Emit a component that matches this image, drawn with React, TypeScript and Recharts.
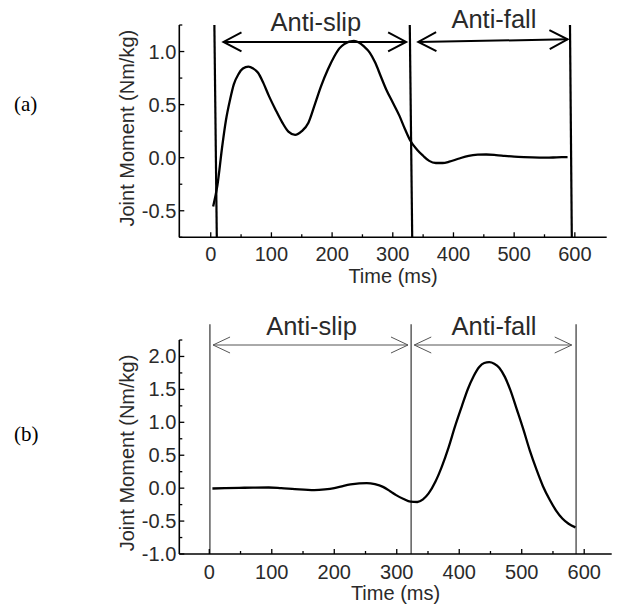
import React from 'react';
import { LineChart, Line, XAxis, YAxis, ReferenceLine } from 'recharts';

// (a) joint moment during the slip
const timeA = [4, 11, 19, 25, 32, 38, 46, 53, 62, 70, 78, 87, 96, 107, 118, 128, 139, 150, 161, 172, 182, 193, 204, 212, 220, 236, 244, 252, 262, 271, 280, 289, 300, 311, 320, 329, 340, 350, 360, 371, 382, 393, 408, 425, 440, 454, 470, 484, 500, 516, 530, 553, 570, 588];
const momentA = [-0.46, -0.26, 0.11, 0.35, 0.55, 0.69, 0.79, 0.84, 0.858, 0.84, 0.8, 0.7, 0.58, 0.45, 0.33, 0.245, 0.215, 0.25, 0.33, 0.51, 0.676, 0.83, 0.958, 1.03, 1.07, 1.1, 1.085, 1.05, 0.99, 0.896, 0.77, 0.645, 0.52, 0.394, 0.27, 0.159, 0.075, 0.018, -0.03, -0.05, -0.05, -0.038, -0.01, 0.018, 0.028, 0.03, 0.025, 0.018, 0.01, 0.005, 0.002, 0.0, 0.003, 0.006];

// (b)
const timeB = [5, 25, 48, 70, 95, 115, 137, 168, 185, 200, 215, 226, 240, 252, 265, 278, 290, 299, 311, 322, 333, 342, 351, 362, 372, 383, 393, 404, 414, 423, 432, 440, 448, 456, 464, 473, 482, 492, 503, 513, 524, 534, 545, 555, 565, 575, 586];
const momentB = [-0.005, 0.0, 0.005, 0.008, 0.01, 0.0, -0.015, -0.03, -0.02, 0.0, 0.035, 0.056, 0.072, 0.076, 0.06, 0.02, -0.05, -0.106, -0.165, -0.205, -0.21, -0.17, -0.08, 0.1, 0.323, 0.62, 0.93, 1.24, 1.51, 1.7, 1.84, 1.9, 1.914, 1.89, 1.83, 1.69, 1.485, 1.2, 0.88, 0.57, 0.273, 0.03, -0.18, -0.34, -0.46, -0.54, -0.596];

const xTicks = [0, 50, 100, 150, 200, 250, 300, 350, 400, 450, 500, 550, 600];
const yTicksA = [-0.75, -0.5, -0.25, 0, 0.25, 0.5, 0.75, 1, 1.25];
const yTicksB = [-1, -0.75, -0.5, -0.25, 0, 0.25, 0.5, 0.75, 1, 1.25, 1.5, 1.75, 2, 2.25];

// phase boundaries (top x, bottom x) in ms
const boundsA = [[6, 10], [328, 332], [592, 595]];
const boundsB = [1, 323, 587];

const phasesA = [
  { label: 'Anti-slip', from: 21, to: 322, yFrom: 1.09, yTo: 1.09 },
  { label: 'Anti-fall', from: 342, to: 588, yFrom: 1.09, yTo: 1.115 },
];
const phasesB = [
  { label: 'Anti-slip', from: 6, to: 318, yFrom: 2.174, yTo: 2.174 },
  { label: 'Anti-fall', from: 328, to: 580, yFrom: 2.174, yTo: 2.174 },
];

const tableA = timeA.map((t, i) => ({ t, m: momentA[i] }));
const tableB = timeB.map((t, i) => ({ t, m: momentB[i] }));

const TXT = '#2a2a2a';

const makeXTick = (labelDy: number) => (props: any) => {
  const { x, y, payload } = props;
  const major = payload.value % 100 === 0;
  return (
    <g>
      <line x1={x} x2={x} y1={y} y2={y - (major ? 5 : 3)} stroke="#000" strokeWidth={1.3} />
      {major && (
        <text x={x} y={y + labelDy} textAnchor="middle" dominantBaseline="central" fontSize={20} fill={TXT}>
          {payload.value}
        </text>
      )}
    </g>
  );
};

const YTick = (props: any) => {
  const { x, y, payload } = props;
  const v = payload.value;
  const major = Math.abs(v * 2 - Math.round(v * 2)) < 1e-6;
  return (
    <g>
      <line x1={x} x2={x + (major ? 5 : 3)} y1={y} y2={y} stroke="#000" strokeWidth={1.3} />
      {major && (
        <text x={x - 3} y={y} textAnchor="end" dominantBaseline="central" fontSize={20} fill={TXT}>
          {v.toFixed(1)}
        </text>
      )}
    </g>
  );
};

const yTitle = (shift: number) => (props: any) => {
  const vb = props.viewBox;
  const cx = vb.x + 127;
  const cy = vb.y + vb.height / 2 + shift;
  return (
    <text x={cx} y={cy} transform={`rotate(-90, ${cx}, ${cy})`} textAnchor="middle" dominantBaseline="central" fontSize={20} fill={TXT}>
      Joint Moment (Nm/kg)
    </text>
  );
};

const arrowShape = (label: string, color: string, sw: number, len: number, half: number, gap: number) => (props: any) => {
  const { x1, y1, x2, y2 } = props;
  const a = Math.atan2(y2 - y1, x2 - x1);
  const c = Math.cos(a);
  const s = Math.sin(a);
  const head = (px: number, py: number, d: number) =>
    `${px + d * len * c - half * s},${py + d * len * s + half * c} ${px},${py} ${px + d * len * c + half * s},${py + d * len * s - half * c}`;
  return (
    <g>
      <line x1={x1} y1={y1} x2={x2} y2={y2} stroke={color} strokeWidth={sw} />
      <polyline points={head(x1, y1, 1)} fill="none" stroke={color} strokeWidth={sw} />
      <polyline points={head(x2, y2, -1)} fill="none" stroke={color} strokeWidth={sw} />
      <text x={(x1 + x2) / 2 + 1} y={Math.min(y1, y2) - gap} textAnchor="middle" fontSize={25.5} fill={TXT}>
        {label}
      </text>
    </g>
  );
};

export default function App() {
  return (
    <div style={{ position: 'absolute', left: 0, top: 0, width: 624, height: 606, background: '#fff', fontFamily: '"Liberation Sans", Arial, sans-serif' }}>
      <svg width={624} height={606} style={{ position: 'absolute', left: 0, top: 0 }}>
        <text x={14} y={104} dominantBaseline="central" fontSize={21} fontFamily='"Liberation Serif", "Times New Roman", serif' fill="#000">(a)</text>
        <text x={14} y={434} dominantBaseline="central" fontSize={21} fontFamily='"Liberation Serif", "Times New Roman", serif' fill="#000">(b)</text>
      </svg>

      <div style={{ position: 'absolute', left: 0, top: 0 }}>
        <LineChart width={624} height={300} data={tableA} margin={{ top: 25, right: 17.3, bottom: 0, left: 0 }}>
          <XAxis
            type="number"
            dataKey="t"
            domain={[-51.8, 652.5]}
            allowDataOverflow
            ticks={xTicks}
            interval={0}
            tick={makeXTick(16.7)}
            tickLine={false}
            tickSize={0}
            tickMargin={0}
            height={62.7}
            axisLine={{ stroke: '#000', strokeWidth: 1.6 }}
            label={{ value: 'Time (ms)', position: 'insideTop', offset: 31, fontSize: 20, fill: TXT }}
          />
          <YAxis
            type="number"
            domain={[-0.75, 1.25]}
            allowDataOverflow
            ticks={yTicksA}
            interval={0}
            tick={YTick}
            tickLine={false}
            tickSize={0}
            tickMargin={0}
            width={179.3}
            axisLine={{ stroke: '#000', strokeWidth: 1.6 }}
            label={{ content: yTitle(-3) }}
          />
          {boundsA.map(([top, bottom]) => (
            <ReferenceLine key={top} segment={[{ x: top, y: 1.25 }, { x: bottom, y: -0.75 }]} stroke="#000" strokeWidth={2.2} ifOverflow="visible" />
          ))}
          {phasesA.map((p) => (
            <ReferenceLine
              key={p.label}
              segment={[{ x: p.from, y: p.yFrom }, { x: p.to, y: p.yTo }]}
              ifOverflow="visible"
              shape={arrowShape(p.label, '#000', 2, 18, 9.5, 11)}
            />
          ))}
          <Line type="monotone" dataKey="m" stroke="#000" strokeWidth={2.3} dot={false} isAnimationActive={false} />
        </LineChart>
      </div>

      <div style={{ position: 'absolute', left: 0, top: 300 }}>
        <LineChart width={624} height={306} data={tableB} margin={{ top: 40, right: 12.3, bottom: 0, left: 0 }}>
          <XAxis
            type="number"
            dataKey="t"
            domain={[-48, 644]}
            allowDataOverflow
            ticks={xTicks}
            interval={0}
            tick={makeXTick(17.7)}
            tickLine={false}
            tickSize={0}
            tickMargin={0}
            height={52}
            axisLine={{ stroke: '#000', strokeWidth: 1.6 }}
            label={{ value: 'Time (ms)', position: 'insideTop', offset: 32, fontSize: 20, fill: TXT }}
          />
          <YAxis
            type="number"
            domain={[-1, 2.25]}
            allowDataOverflow
            ticks={yTicksB}
            interval={0}
            tick={YTick}
            tickLine={false}
            tickSize={0}
            tickMargin={0}
            width={179.3}
            axisLine={{ stroke: '#000', strokeWidth: 1.6 }}
            label={{ content: yTitle(6) }}
          />
          {boundsB.map((b) => (
            <ReferenceLine key={b} segment={[{ x: b, y: 2.49 }, { x: b, y: -1 }]} stroke="#444" strokeWidth={1.3} ifOverflow="visible" />
          ))}
          {phasesB.map((p) => (
            <ReferenceLine
              key={p.label}
              segment={[{ x: p.from, y: p.yFrom }, { x: p.to, y: p.yTo }]}
              ifOverflow="visible"
              shape={arrowShape(p.label, '#555', 1, 17, 8, 10)}
            />
          ))}
          <Line type="monotone" dataKey="m" stroke="#000" strokeWidth={2.3} dot={false} isAnimationActive={false} />
        </LineChart>
      </div>
    </div>
  );
}
